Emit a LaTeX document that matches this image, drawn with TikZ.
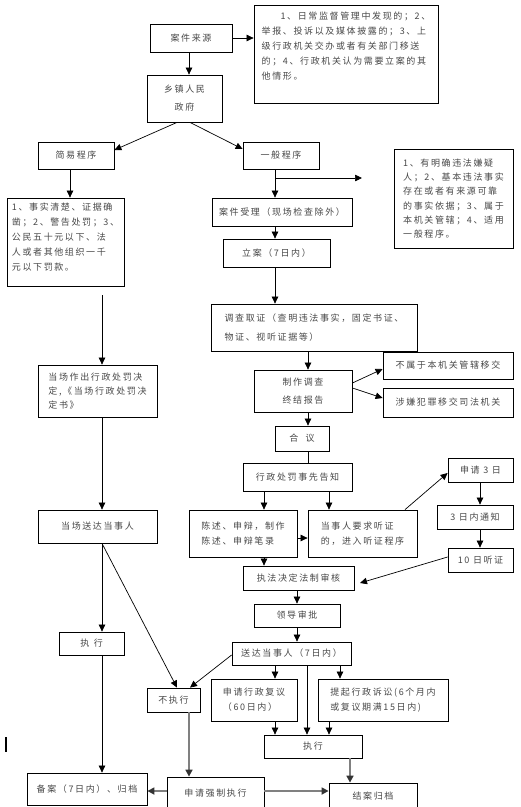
\documentclass[tikz,border=0pt]{standalone}
\usepackage{fontspec}
\setmainfont{Noto Sans CJK SC}[LetterSpace=18]
\usetikzlibrary{arrows.meta}
\begin{document}
\begin{tikzpicture}[x=1pt,y=-1pt,
  box/.style={draw,line width=0.8pt,inner sep=0pt,align=left,text=black!72,font=\fontsize{9}{15}\selectfont},
  arr/.style={line width=0.7pt,-{Triangle[length=7pt,width=6.5pt]}},
  ln/.style={line width=0.7pt},
  garr/.style={line width=1.6pt,draw=black!50,-{Triangle[length=7pt,width=7pt,color=black!80]}},
  gln/.style={line width=1.6pt,draw=black!50}]
\useasboundingbox (0,0) rectangle (521,807);
% boxes
\node[box,minimum width=82pt,minimum height=28pt] (src) at (191,38) {案件来源};
\node[box,minimum width=184pt,minimum height=98pt,font=\fontsize{9}{15}\selectfont] (t1) at (346,54) {\hspace*{2.1em}1、日常监督管理中发现的；2、\\举报、投诉以及媒体披露的；3、上\\级行政机关交办或者有关部门移送\\的；4、行政机关认为需要立案的其\\他情形。\\[2pt]\mbox{}};
\node[box,minimum width=75pt,minimum height=47pt,align=center,font=\fontsize{9}{18}\selectfont] (gov) at (184.5,98.5) {乡镇人民\\政府};
\node[box,minimum width=76pt,minimum height=27pt] (simple) at (76,155.5) {简易程序};
\node[box,minimum width=76pt,minimum height=27pt] (gen) at (281,155.5) {一般程序};
\node[box,minimum width=117pt,minimum height=88pt] (t2) at (65.5,242) {1、事实清楚、证据确\\凿；2、警告处罚；3、\\公民五十元以下、法\\人或者其他组织一千\\元以下罚款。\\[-4pt]\mbox{}};
\node[box,minimum width=140pt,minimum height=28pt] (acc) at (282,212) {案件受理（现场检查除外）};
\node[box,minimum width=119pt,minimum height=99pt,font=\fontsize{9}{14.2}\selectfont] (t3) at (453.5,198.5) {1、有明确违法嫌疑\\人；2、基本违法事实\\存在或者有来源可靠\\的事实依据；3、属于\\本机关管辖；4、适用\\一般程序。};
\node[box,minimum width=107pt,minimum height=28pt] (la) at (276.5,253) {立案（7日内）};
\node[box,minimum width=206pt,minimum height=47pt,font=\fontsize{9}{19}\selectfont] (inv) at (314,327.5) {调查取证（查明违法事实，固定书证、\\物证、视听证据等）\hspace*{7.6em}};
\node[box,minimum width=119pt,minimum height=52pt,font=\fontsize{9}{14}\selectfont] (spot) at (97.5,391) {当场作出行政处罚决\\定,《当场行政处罚决\\定书》};
\node[box,minimum width=98pt,minimum height=42pt,font=\fontsize{9}{18}\selectfont] (rep) at (303,391) {制作调查\\终结报告};
\node[box,minimum width=130pt,minimum height=27pt] (nb) at (448,365.5) {不属于本机关管辖移交};
\node[box,minimum width=130pt,minimum height=29pt] (cr) at (448,402.5) {涉嫌犯罪移交司法机关};
\node[box,minimum width=54pt,minimum height=25pt] (hy) at (302,438.5) {合\hspace{0.8em}议};
\node[box,minimum width=109pt,minimum height=28pt] (pre) at (297.5,477) {行政处罚事先告知};
\node[box,minimum width=108pt,minimum height=47pt] (sta) at (243,533.5) {陈述、申辩，制作\\陈述、申辩笔录};
\node[box,minimum width=109pt,minimum height=47pt] (hear) at (362.5,533.5) {当事人要求听证\\的，进入听证程序};
\node[box,minimum width=119pt,minimum height=33pt] (deliv) at (97.5,526.5) {当场送达当事人};
\node[box,minimum width=65pt,minimum height=24pt] (ap3) at (480.5,470) {申请 3 日};
\node[box,minimum width=76pt,minimum height=24pt] (n3) at (475,517) {3 日内通知};
\node[box,minimum width=65pt,minimum height=24pt] (h10) at (480.5,560) {10 日听证};
\node[box,minimum width=111pt,minimum height=24pt] (rev) at (298.5,578) {执法决定法制审核};
\node[box,minimum width=86pt,minimum height=23pt] (lead) at (297,615.5) {领导审批};
\node[box,minimum width=119pt,minimum height=23pt] (send) at (291.5,653.5) {送达当事人（7日内）};
\node[box,minimum width=65pt,minimum height=23pt] (ex1) at (91.5,643.5) {执\hspace{0.5em}行};
\node[box,minimum width=53pt,minimum height=24pt] (nex) at (173.5,700) {不执行};
\node[box,minimum width=86pt,minimum height=42pt] (fy) at (254,700) {申请行政复议\\（60日内）};
\node[box,minimum width=130pt,minimum height=42pt] (ss) at (383,700) {提起行政诉讼(6个月内\\或复议期满15日内)};
\node[box,minimum width=98pt,minimum height=23pt] (ex2) at (313,746.5) {执行};
\node[box,minimum width=88pt,minimum height=27pt] (ja) at (373,796.5) {结案归档};
\node[box,minimum width=97pt,minimum height=33pt] (qz) at (215.5,793.5) {申请强制执行};
\node[box,minimum width=120pt,minimum height=32pt] (ba) at (87,789) {备案（7日内）、归档};
% free ends
\coordinate (gb) at (275,178);
\coordinate (ge) at (362,178);
\coordinate (t2b) at (102,295);
\coordinate (h10e) at (360,583);
% connectors
\draw[arr] (src.east) -- (src.east -| t1.west);
\draw[arr] (src.south -| 189,0) -- (gov.north -| 189,0);
\draw[arr] (gov.south -| 177,0) -- (simple.east |- 0,150);
\draw[arr] (gov.south -| 190,0) -- (gen.west |- 0,149);
\draw[arr] (simple.south -| 70,0) -- (t2.north -| 70,0);
\draw[arr] (gen.south -| 275,0) -- (acc.north -| 275,0);
\draw[arr] (gb) -- (ge);
\draw[arr] (acc.south -| 275,0) -- (la.north -| 275,0);
\draw[arr] (la.south -| 275,0) -- (inv.north -| 275,0);
\draw[arr] (t2b) -- (spot.north -| t2b);
\draw[arr] (inv.south -| 308,0) -- (rep.north -| 308,0);
\draw[arr] (rep.east |- 0,383) -- (nb.west |- 0,369);
\draw[arr] (rep.east |- 0,388) -- (cr.west |- 0,398);
\draw[arr] (rep.south -| 308,0) -- (hy.north -| 308,0);
\draw[ln] (hy.south -| 308,0) -- (pre.north -| 308,0);
\draw[arr] (pre.south -| 264,0) -- (sta.north -| 264,0);
\draw[arr] (pre.south -| 329,0) -- (hear.north -| 329,0);
\draw[arr] (sta.east |- 0,538) -- (hear.west |- 0,538);
\draw[arr] (hear.north -| 405,0) -- (ap3.west |- 0,473);
\draw[arr] (ap3.south -| 480,0) -- (n3.north -| 480,0);
\draw[arr] (n3.south -| 480,0) -- (h10.north -| 480,0);
\draw[arr] (h10.west |- 0,557) -- (h10e);
\draw[arr] (sta.south -| 264,0) -- (rev.north -| 264,0);
\draw[arr] (spot.south -| 102,0) -- (deliv.north -| 102,0);
\draw[arr] (deliv.south -| 102,0) -- (ex1.north -| 102,0);
\draw[arr] (deliv.south -| 102,0) -- (nex.north -| 177,0);
\draw[arr] (rev.south -| 297,0) -- (lead.north -| 297,0);
\draw[arr] (lead.south -| 297,0) -- (send.north -| 297,0);
\draw[arr] (send.west |- 0,655) -- (nex.north -| 190,0);
\draw[arr] (send.south -| 275,0) -- (fy.north -| 275,0);
\draw[arr] (send.south -| 340,0) -- (ss.north -| 340,0);
\draw[arr] (send.south -| 307,0) -- (ex2.north -| 307,0);
\draw[arr] (fy.south -| 275,0) -- (ex2.north -| 275,0);
\draw[arr] (ss.south -| 329,0) -- (ex2.north -| 329,0);
\draw[arr] (ex1.south -| 102,0) -- (ba.north -| 102,0);
\draw[garr] (nex.south -| 189,0) -- (qz.north -| 189,0);
\draw[garr] (qz.west |- 0,791) -- (ba.east |- 0,791);
\draw[garr] (qz.east |- 0,791) -- (ja.west |- 0,791);
\draw[garr] (ex2.south -| 350,0) -- (ja.north -| 350,0);
% stray mark at left
\draw[line width=1.6pt] (6,737) -- (6,752);
\end{tikzpicture}
\end{document}
